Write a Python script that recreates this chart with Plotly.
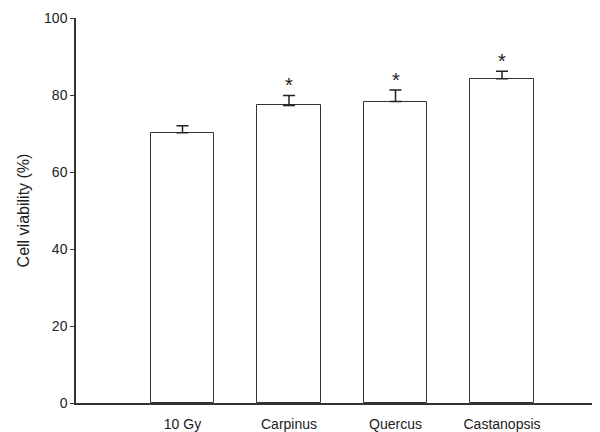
import plotly.graph_objects as go

categories = ["10 Gy", "Carpinus", "Quercus", "Castanopsis"]
viability = [70.2, 77.3, 78.3, 84.2]
error_up = [1.8, 2.6, 3.0, 2.0]
significant = [False, True, True, True]
y_ticks = [0, 20, 40, 60, 80, 100]

xpos = list(range(1, len(categories) + 1))

fig = go.Figure()
fig.add_trace(go.Bar(
    x=xpos, y=viability, width=0.6,
    marker=dict(color="white", line=dict(color="#333333", width=1)),
    error_y=dict(type="data", symmetric=False, array=error_up,
                 arrayminus=[0] * len(error_up),
                 color="#222222", thickness=1.5, width=6),
    showlegend=False,
))

for x, v, e, s in zip(xpos, viability, error_up, significant):
    if s:
        fig.add_annotation(x=x, y=v + e, text="*", showarrow=False,
                           yshift=10, font=dict(size=20, color="#222222",
                                                family="Liberation Sans, Arial"))

# page body has an 8px default margin, so the figure is sized to fit the window
fig.update_layout(
    width=592, height=424,
    paper_bgcolor="white", plot_bgcolor="white",
    margin=dict(l=68, r=0, t=10, b=29, autoexpand=False),
    font=dict(family="Liberation Sans, Arial, sans-serif", size=14, color="#222222"),
    bargap=0,
)
fig.update_xaxes(
    range=[0, 4.92], tickvals=xpos, ticktext=categories,
    showline=True, linecolor="#333333", linewidth=1.5,
    ticks="", showgrid=False, zeroline=False, automargin=False,
    ticklabelstandoff=7,
)
fig.update_yaxes(
    range=[0, 100], tickvals=y_ticks,
    showline=True, linecolor="#333333", linewidth=1.5,
    ticks="outside", ticklen=4, tickcolor="#333333", tickwidth=1.2,
    showgrid=False, zeroline=False, automargin=False,
    title=dict(text="Cell viability (%)", font=dict(size=16), standoff=10),
)

fig.write_html("out.html")
